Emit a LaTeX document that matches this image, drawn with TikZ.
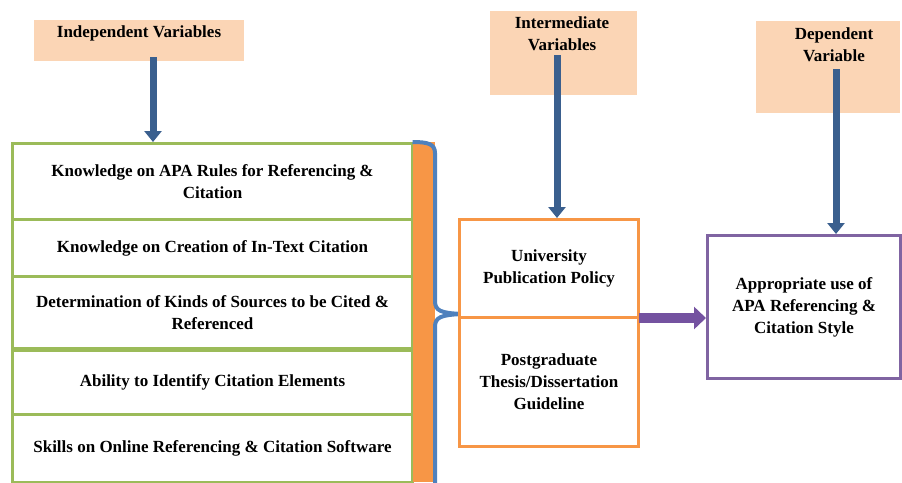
\documentclass[tikz,border=0pt]{standalone}
\usepackage{fontspec}
\setmainfont{Liberation Serif}
\usetikzlibrary{arrows.meta}
\definecolor{grn}{HTML}{9BBB59}
\definecolor{org}{HTML}{F79646}
\definecolor{blu}{HTML}{4F81BD}
\definecolor{dblu}{HTML}{3A5F8E}
\definecolor{peach}{HTML}{FBD5B5}
\definecolor{purp}{HTML}{8064A2}
\definecolor{darrp}{HTML}{7452A0}
\begin{document}
\begin{tikzpicture}[x=1pt,y=-1pt,
  lbl/.style={font=\fontsize{17}{22}\selectfont\bfseries, align=center, inner sep=0pt},
  hdr/.style={fill=peach, anchor=north west, inner sep=0pt},
  gbox/.style={draw=grn, line width=3pt, fill=white, anchor=north west, inner sep=0pt, minimum width=400pt},
  obox/.style={draw=org, line width=3pt, fill=white, anchor=north west, inner sep=0pt, minimum width=179pt},
  pbox/.style={draw=purp, line width=3pt, fill=white, anchor=north west, inner sep=0pt},
  darr/.style={draw=dblu, line width=7pt, -{Triangle[width=17pt,length=11pt]}},
  parr/.style={draw=darrp, line width=10pt, -{Triangle[width=22pt,length=12pt]}}
]
\useasboundingbox (0,0) rectangle (902,482);
% headers
\node[hdr, minimum width=210pt, minimum height=41pt] (ind) at (34,20) {};
\node[lbl, anchor=north] (indt) at (139,26) {Independent Variables};
\node[hdr, minimum width=147pt, minimum height=84pt] (int) at (490,11) {};
\node[lbl, anchor=north] (intt) at (562,17) {Intermediate\\Variables};
\node[hdr, minimum width=144pt, minimum height=92pt] (dep) at (756,21) {};
\node[lbl, anchor=north] (dept) at (834,28) {Dependent\\Variable};
% left boxes
\node[gbox, minimum height=76pt] (g1) at (11,142) {};
\node[gbox, minimum height=57pt] (g2) at (11,218) {};
\node[gbox, minimum height=72pt] (g3) at (11,275) {};
\node[gbox, minimum height=64pt] (g4) at (11,349) {};
\node[gbox, minimum height=68pt] (g5) at (11,413) {};
\node[lbl] (g1t) at (g1.center) {Knowledge on APA Rules for Referencing \&\\Citation};
\node[lbl] (g2t) at (g2.center) {Knowledge on Creation of In-Text Citation};
\node[lbl] (g3t) at (g3.center) {Determination of Kinds of Sources to be Cited \&\\Referenced};
\node[lbl] (g4t) at (g4.center) {Ability to Identify Citation Elements};
\node[lbl] (g5t) at (g5.center) {Skills on Online Referencing \& Citation Software};
% orange bar and brace
\node[fill=org, anchor=north west, inner sep=0pt, minimum width=22pt, minimum height=340pt] (bar) at (412.5,142) {};
\coordinate (tip) at (462,314);
\draw[blu, line width=4pt] (bar.north west) .. controls (428,142) and (435,144) .. (435,153) -- (435,301)
  .. controls (435,311) and (441,313) .. (tip)
  .. controls (441,315) and (435,317) .. (435,327) -- (435,484);
% middle boxes
\node[obox, minimum height=98pt] (m1) at (458,218) {};
\node[obox, minimum height=129pt] (m2) at (458,316) {};
\node[lbl] (m1t) at (m1.center) {University\\Publication Policy};
\node[lbl] (m2t) at (m2.center) {Postgraduate\\Thesis/Dissertation\\Guideline};
% dependent box
\node[pbox, minimum width=193pt, minimum height=143pt] (pb) at (706,234) {};
\node[lbl] (pbt) at (pb.center) {Appropriate use of\\APA Referencing \&\\Citation Style};
% arrows
\coordinate (a1) at (153,57);
\coordinate (a2) at (557,55);
\coordinate (a3) at (836,69);
\draw[darr] (a1) -- (a1 |- g1.north);
\draw[darr] (a2) -- (a2 |- m1.north);
\draw[darr] (a3) -- (a3 |- pb.north);
\coordinate (a4) at (639,318);
\draw[parr] (a4) -- (a4 -| pb.west);
\end{tikzpicture}
\end{document}
